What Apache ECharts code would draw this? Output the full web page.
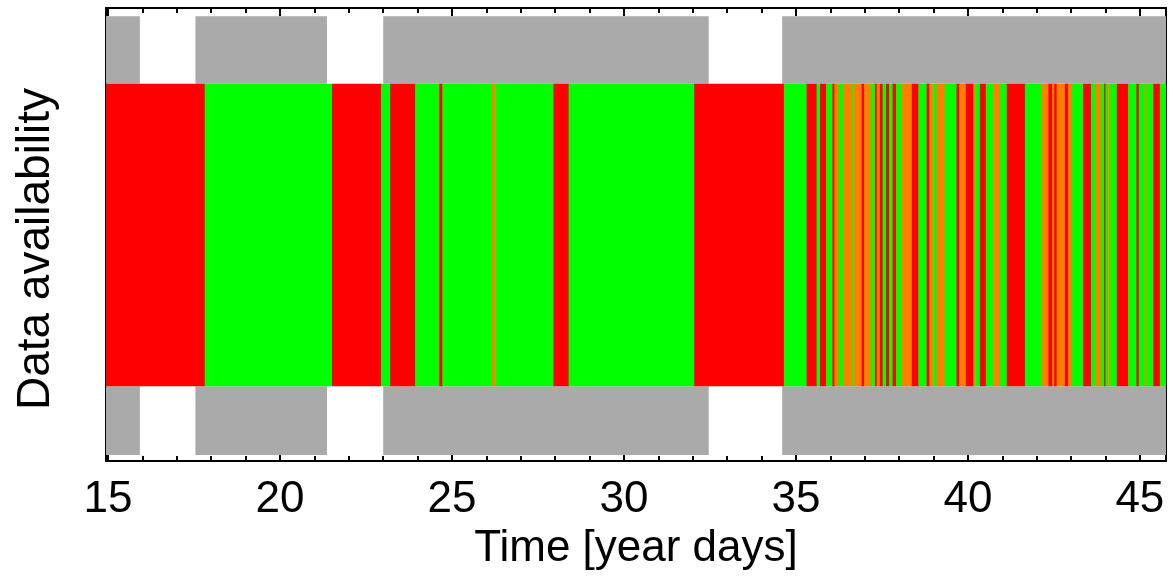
<!DOCTYPE html>
<html><head><meta charset="utf-8">
<script src="https://cdn.jsdelivr.net/npm/echarts@6/dist/echarts.min.js"></script>
<style>html,body{margin:0;padding:0;background:#fff}#c{width:1173px;height:576px}</style>
</head><body><div id="c"></div>
<script>
// ---- data (year days) ----
const coverageStart = [14.90, 17.54, 23.00, 34.60];
const coverageEnd   = [15.91, 21.35, 32.45, 45.80];

const segmentStart = [
  14.90, 17.81, 21.51, 22.94, 23.20, 23.93, 24.63, 24.72, 26.16, 26.26,
  27.95, 28.39, 32.04, 34.65, 35.31, 35.60, 35.70, 35.88, 36.06, 36.12,
  36.24, 36.38, 36.62, 36.67, 36.91, 36.98, 37.18, 37.30, 37.35, 37.44,
  37.52, 37.62, 37.71, 37.81, 37.91, 38.07, 38.37, 38.56, 38.80, 38.88,
  38.99, 39.09, 39.33, 39.67, 39.75, 39.94, 40.16, 40.21, 40.35, 40.52,
  40.74, 40.93, 41.13, 41.66, 42.14, 42.34, 42.45, 42.51, 42.58, 42.82,
  42.91, 43.02, 43.35, 43.58, 43.71, 43.87, 43.96, 44.00, 44.08, 44.13,
  44.33, 44.66, 44.90, 44.97, 45.15, 45.20, 45.39, 45.58
];
const segmentStatus = [
  'R','G','R','G','R','G','R','G','O','G',
  'R','G','R','G','R','G','R','G','R','O',
  'G','O','G','O','R','O','G','R','O','R',
  'G','R','G','R','G','O','R','G','R','O',
  'G','O','G','R','O','R','O','G','R','G',
  'O','G','R','G','O','R','O','R','O','R',
  'O','G','R','G','O','G','R','G','O','G',
  'R','G','R','G','O','G','R','G'
];
const dataEnd = 45.80;

const xMin = 14.94, xMax = 45.76;
const majorTicks = [15, 20, 25, 30, 35, 40, 45];
const minorTicks = [16,17,18,19,21,22,23,24,26,27,28,29,31,32,33,34,36,37,38,39,41,42,43,44];
const xTitle = 'Time [year days]';
const yTitle = 'Data availability';

// ---- layout constants (fractions of y axis) ----
const band = { grayLow: [0.013, 0.165], mid: [0.165, 0.833], grayHigh: [0.833, 0.982] };
const statusColor = { R: '#ff0000', G: '#00ff00', O: '#ff8000' };
const statusCodes = ['R', 'G', 'O'];

const segData = segmentStart.map((s, i) => [
  s, i + 1 < segmentStart.length ? segmentStart[i + 1] : dataEnd, statusCodes.indexOf(segmentStatus[i])
]);
const covData = coverageStart.map((s, i) => [s, coverageEnd[i]]);

function rectFor(api, x0, x1, y0, y1, fill) {
  const a = api.coord([x0, y1]);
  const b = api.coord([x1, y0]);
  return { type: 'rect', shape: { x: a[0], y: a[1], width: b[0] - a[0] + 0.5, height: b[1] - a[1] },
           style: { fill: fill, stroke: null } };
}

const chart = echarts.init(document.getElementById('c'), null, { renderer: 'canvas' });

const baseX = { type: 'value', min: xMin, max: xMax, gridIndex: 0, splitLine: { show: false } };
const font = 'Liberation Sans, Arial, Helvetica, sans-serif';

chart.setOption({
  animation: false,
  backgroundColor: '#ffffff',
  grid: { left: 106, right: 7, top: 8, bottom: 114, containLabel: false },
  graphic: [{
    type: 'text', x: 36, y: 249, rotation: Math.PI / 2,
    style: { text: yTitle, fill: '#000', font: '46px ' + font, align: 'center', verticalAlign: 'middle' }
  }],
  xAxis: [
    Object.assign({}, baseX, {
      position: 'bottom',
      axisLine: { show: true, onZero: false, lineStyle: { color: '#000', width: 2 } },
      axisTick: { show: true, inside: true, length: 8, customValues: majorTicks, lineStyle: { color: '#000', width: 2 } },
      axisLabel: { show: true, customValues: majorTicks, margin: 17, color: '#000', fontSize: 44, fontFamily: font },
      name: xTitle, nameLocation: 'middle', nameGap: 66,
      nameTextStyle: { color: '#000', fontSize: 44, fontFamily: font }
    }),
    Object.assign({}, baseX, {
      position: 'bottom',
      axisLine: { show: false, onZero: false },
      axisTick: { show: true, inside: true, length: 5, customValues: minorTicks, lineStyle: { color: '#000', width: 2 } },
      axisLabel: { show: false }
    }),
    Object.assign({}, baseX, {
      position: 'top',
      axisLine: { show: true, onZero: false, lineStyle: { color: '#000', width: 2 } },
      axisTick: { show: true, inside: true, length: 8, customValues: majorTicks, lineStyle: { color: '#000', width: 2 } },
      axisLabel: { show: false }
    }),
    Object.assign({}, baseX, {
      position: 'top',
      axisLine: { show: false, onZero: false },
      axisTick: { show: true, inside: true, length: 5, customValues: minorTicks, lineStyle: { color: '#000', width: 2 } },
      axisLabel: { show: false }
    })
  ],
  yAxis: [
    {
      type: 'value', min: 0, max: 1, position: 'left',
      axisLine: { show: true, onZero: false, lineStyle: { color: '#000', width: 2 } },
      axisTick: { show: false }, axisLabel: { show: false }, splitLine: { show: false }
    },
    {
      type: 'value', min: 0, max: 1, position: 'right',
      axisLine: { show: true, onZero: false, lineStyle: { color: '#000', width: 2 } },
      axisTick: { show: false }, axisLabel: { show: false }, splitLine: { show: false }
    }
  ],
  series: [
    {
      type: 'custom', xAxisIndex: 0, yAxisIndex: 0, clip: true, z: 1,
      data: covData, encode: { x: [0, 1] },
      renderItem: function (params, api) {
        const x0 = api.value(0), x1 = api.value(1);
        return { type: 'group', children: [
          rectFor(api, x0, x1, band.grayLow[0], band.grayLow[1], '#aaaaaa'),
          rectFor(api, x0, x1, band.grayHigh[0], band.grayHigh[1], '#aaaaaa')
        ] };
      }
    },
    {
      type: 'custom', xAxisIndex: 0, yAxisIndex: 0, clip: true, z: 2,
      data: segData, encode: { x: [0, 1] },
      renderItem: function (params, api) {
        const x0 = api.value(0), x1 = api.value(1), k = api.value(2);
        return rectFor(api, x0, x1, band.mid[0], band.mid[1], statusColor[statusCodes[k]]);
      }
    }
  ]
});
</script>
</body></html>
